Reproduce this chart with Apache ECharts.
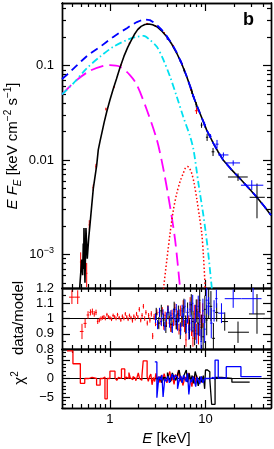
<!DOCTYPE html>
<html><head><meta charset="utf-8">
<script src="https://cdn.jsdelivr.net/npm/echarts@6/dist/echarts.min.js"></script>
<style>html,body{margin:0;padding:0;background:#fff}#c{width:274px;height:449px}</style>
</head><body><div id="c"></div>
<script>
// ---------- axis ranges and tick values ----------
const xRange = [0.315, 48.5];
const fluxRange = [4.4e-4, 0.46];
const ratioRange = [0.8, 1.2];
const chiRange = [-8, 8];
const xMajorTicks = [1, 10];
const xMinorTicks = [0.4,0.5,0.6,0.7,0.8,0.9,2,3,4,5,6,7,8,9,20,30,40];
const xTickLabels = [1, 10];
const fluxMajorTicks = [0.001, 0.01, 0.1];
const fluxMinorTicks = [5e-4,6e-4,7e-4,8e-4,9e-4,0.002,0.003,0.004,0.005,0.006,0.007,0.008,0.009,0.02,0.03,0.04,0.05,0.06,0.07,0.08,0.09,0.2,0.3,0.4];
const fluxTickLabels = [0.001, 0.01, 0.1];
const ratioMajorTicks = [0.8, 0.9, 1.0, 1.1, 1.2];
const ratioMinorTicks = [0.85, 0.95, 1.05, 1.15];
const ratioTickLabels = [0.8, 0.9, 1.0, 1.1, 1.2];
const chiMajorTicks = [-5, 0, 5];
const chiMinorTicks = [-8,-7,-6,-4,-3,-2,-1,1,2,3,4,6,7,8];
const chiTickLabels = [-5, 0, 5];
const ratioUnity = 1;
const chiZero = 0;

// ---------- model curves [E keV, E F_E] ----------
const totalModel = [[0.47,3.0e-4],[0.506,8.8e-4],[0.518,6.0e-4],[0.526,1.3e-3],[0.531,7.0e-4],[0.535,1.9e-3],[0.548,5.0e-4],[0.561,1.9e-3],[0.579,9.0e-4],[0.600,1.5e-3],[0.618,2.05e-3],[0.645,3.3e-3],[0.670,5.0e-3],[0.700,6.8e-3],[0.726,8.7e-3],[0.755,0.0128],[0.790,0.0160],[0.82,0.0190],[0.87,0.0250],[0.93,0.0330],[1.00,0.0431],[1.08,0.056],[1.17,0.072],[1.27,0.094],[1.40,0.125],[1.53,0.155],[1.65,0.180],[1.80,0.213],[1.95,0.240],[2.12,0.260],[2.32,0.272],[2.55,0.276],[2.80,0.270],[3.10,0.258],[3.45,0.235],[3.94,0.202],[4.45,0.168],[5.01,0.135],[5.65,0.104],[6.37,0.0761],[7.0,0.058],[7.49,0.0467],[8.1,0.038],[8.77,0.0311],[9.5,0.0255],[10.3,0.0207],[11.2,0.0175],[12.1,0.0150],[13.5,0.0123],[15.3,0.0100],[18.5,0.0080],[22.8,0.0064],[28.0,0.0051],[34.1,0.00408],[41.0,0.00325],[48.5,0.0026]];
const unabsorbedModel = [[0.315,0.0720],[0.36,0.081],[0.431,0.0964],[0.50,0.111],[0.589,0.129],[0.68,0.143],[0.786,0.157],[0.92,0.178],[1.075,0.200],[1.27,0.224],[1.505,0.249],[1.70,0.270],[1.915,0.289],[2.10,0.300],[2.32,0.307],[2.62,0.303],[2.85,0.288],[3.10,0.268],[3.50,0.238],[3.94,0.205],[4.45,0.170],[5.01,0.137],[5.65,0.105],[6.37,0.0765],[7.0,0.058],[7.49,0.0467],[8.1,0.038],[8.77,0.0311],[9.5,0.0255],[10.3,0.0207],[11.2,0.0175],[12.1,0.0150],[13.5,0.0123],[15.3,0.0100],[18.5,0.0080],[22.8,0.0064],[28.0,0.0051],[34.1,0.00408],[41.0,0.00325],[48.5,0.0026]];
const comptonModel = [[0.315,0.0495],[0.414,0.0648],[0.571,0.0934],[0.786,0.124],[1.083,0.158],[1.494,0.186],[1.915,0.202],[2.265,0.206],[2.60,0.188],[3.10,0.158],[3.64,0.114],[4.26,0.0761],[5.01,0.0467],[5.85,0.0287],[6.92,0.0176],[7.50,0.0128],[8.44,0.00563],[9.55,0.00251],[10.58,0.00113],[11.65,0.00044],[12.2,0.0003]];
const diskModel = [[0.315,0.0495],[0.449,0.0702],[0.618,0.0881],[0.851,0.0995],[1.0,0.101],[1.272,0.0971],[1.618,0.0793],[1.915,0.0622],[2.436,0.0338],[3.10,0.0163],[3.64,0.00784],[4.26,0.00320],[4.81,0.00142],[5.42,0.00044],[5.6,0.0003]];
const lineModel = [[3.5,0.0003],[3.64,0.00044],[4.26,0.00167],[4.6,0.0029],[5.01,0.00444],[5.45,0.0060],[5.85,0.0072],[6.15,0.0082],[6.48,0.00852],[6.8,0.0082],[7.18,0.0072],[7.6,0.0057],[8.14,0.00377],[8.6,0.0026],[9.14,0.00167],[9.5,0.0010],[9.93,0.00044],[10.1,0.0003]];

// ---------- spectra [E, Elo, Ehi, F, Flo, Fhi] ----------
const redSpec = [[0.494,0.485,0.503,8.3e-4,6.0e-4,1.05e-3],[0.571,0.561,0.581,6.3e-4,4.5e-4,8.1e-4],[0.608,0.598,0.618,2.05e-3,1.8e-3,2.3e-3],[0.669,0.658,0.680,5.1e-3,4.7e-3,5.5e-3],[0.714,0.702,0.726,8.6e-3,8.1e-3,9.1e-3],[0.908,0.893,0.923,0.0346,0.0334,0.0358],[1.10,1.08,1.12,0.059,0.0575,0.0605],[1.30,1.28,1.32,0.101,0.099,0.103],[1.60,1.57,1.63,0.172,0.169,0.175],[2.00,1.96,2.04,0.247,0.243,0.251],[2.45,2.40,2.50,0.279,0.275,0.283],[3.00,2.94,3.06,0.262,0.257,0.267],[3.70,3.63,3.77,0.222,0.217,0.227],[4.60,4.51,4.69,0.161,0.156,0.166],[5.70,5.59,5.81,0.103,0.099,0.107],[7.00,6.86,7.14,0.057,0.054,0.060],[8.05,7.75,8.35,0.0332,0.0307,0.0357]];
const blackSpec = [[6.0,5.9,6.1,0.089,0.085,0.093],[7.2,7.05,7.35,0.053,0.050,0.056],[8.0,7.85,8.15,0.0385,0.036,0.041],[9.1,8.9,9.3,0.0234,0.0219,0.0249],[10.4,10.1,10.7,0.0174,0.0159,0.0189],[12.0,11.6,12.4,0.0122,0.0110,0.0134],[21.9,17.2,27.7,0.0066,0.0060,0.0072],[34.6,29.0,41.8,0.00402,0.00241,0.00562]];
const blueSpec = [[4.0,3.9,4.1,0.192,0.187,0.197],[5.5,5.35,5.65,0.111,0.107,0.115],[7.5,7.3,7.7,0.047,0.045,0.049],[9.8,9.5,10.1,0.0235,0.022,0.025],[11.3,11.0,11.6,0.0178,0.0168,0.0188],[13.2,12.7,13.7,0.0147,0.0133,0.0163],[15.4,13.6,17.4,0.0113,0.0106,0.0120],[19.5,16.0,23.0,0.0093,0.0087,0.0099],[30.5,23.5,40.3,0.0054,0.0048,0.0061]];

// ---------- data/model ratios [E, ratio, err] ----------
const redRatio = [[0.40,1.14,0.045],[0.46,1.14,0.045],[0.51,0.915,0.05],[0.55,0.968,0.03],[0.59,1.023,0.025],[0.625,1.04,0.02],[0.655,1.045,0.02],[0.685,1.03,0.018],[0.715,1.04,0.018],[0.745,0.98,0.016],[0.775,0.99,0.015],[0.805,1.0,0.014],[0.835,1.005,0.013],[0.865,1.01,0.013],[0.895,1.0,0.012],[0.93,1.025,0.012],[0.965,1.01,0.012],[1.00,1.005,0.012],[1.04,0.995,0.012],[1.08,1.02,0.012],[1.12,1.01,0.012],[1.16,1.0,0.012],[1.20,1.025,0.012],[1.25,1.005,0.012],[1.30,0.99,0.012],[1.35,1.015,0.012],[1.40,1.0,0.012],[1.45,1.03,0.012],[1.50,1.01,0.012],[1.55,0.995,0.012],[1.60,1.02,0.012],[1.66,1.005,0.012],[1.72,0.985,0.012],[1.78,1.015,0.012],[1.84,1.0,0.013],[1.90,1.03,0.013],[1.96,1.01,0.013],[2.03,1.06,0.015],[2.10,0.99,0.015],[2.17,1.02,0.015],[2.24,1.08,0.015],[2.31,1.0,0.015],[2.38,1.04,0.015],[2.46,0.97,0.016],[2.54,1.02,0.016],[2.62,0.99,0.017],[2.71,1.03,0.018],[2.80,0.885,0.02],[2.90,1.01,0.02],[3.00,0.97,0.02],[3.10,1.04,0.02],[3.20,0.96,0.022],[3.31,1.03,0.022],[3.42,0.98,0.022],[3.54,1.05,0.024],[3.66,0.95,0.024],[3.78,1.02,0.025],[3.91,0.97,0.025],[4.04,1.06,0.026],[4.18,0.99,0.027],[4.32,0.94,0.028],[4.47,1.03,0.028],[4.62,0.98,0.03],[4.78,1.07,0.03],[4.94,0.96,0.032],[5.11,1.02,0.033],[5.28,0.93,0.035],[5.46,1.05,0.035],[5.65,0.98,0.037],[5.84,1.08,0.04],[6.04,0.95,0.04],[6.25,0.86,0.045],[6.46,1.01,0.045],[6.68,0.97,0.05],[6.91,1.09,0.05],[7.14,0.94,0.055],[7.39,0.87,0.055],[7.64,1.03,0.06],[7.90,0.92,0.06],[8.17,1.06,0.065],[8.45,0.90,0.07],[8.74,1.04,0.07],[9.04,0.95,0.075],[9.35,1.02,0.08]];
const blueRatio = [[3.0,1.0,0.03],[3.15,0.96,0.03],[3.3,1.04,0.03],[3.45,0.98,0.03],[3.6,1.03,0.03],[3.75,0.95,0.03],[3.9,1.01,0.03],[4.05,1.05,0.03],[4.2,0.97,0.03],[4.35,1.02,0.035],[4.5,0.94,0.035],[4.65,1.03,0.035],[4.8,0.99,0.035],[4.95,1.06,0.035],[5.1,0.96,0.04],[5.3,1.02,0.04],[5.5,0.93,0.04],[5.7,1.05,0.04],[5.9,0.99,0.045],[6.1,1.08,0.045],[6.3,0.95,0.045],[6.5,1.02,0.05],[6.7,0.91,0.05],[6.9,1.06,0.05],[7.1,0.97,0.055],[7.35,1.10,0.055],[7.6,0.94,0.06],[7.85,1.03,0.06],[8.1,0.90,0.065],[8.4,1.08,0.07],[8.7,0.96,0.075],[9.0,0.85,0.08],[9.4,1.05,0.08],[9.8,0.93,0.09],[10.3,1.12,0.09],[10.8,1.08,0.06],[11.5,0.97,0.1],[12.3,1.05,0.07],[13.0,1.13,0.06]];
const blackRatio = [[3.05,1.03,0.04],[3.25,0.97,0.04],[3.45,1.05,0.04],[3.65,0.99,0.04],[3.85,0.95,0.045],[4.05,1.04,0.045],[4.25,1.0,0.045],[4.45,0.96,0.05],[4.7,1.06,0.05],[4.95,0.98,0.05],[5.2,1.03,0.055],[5.45,0.92,0.055],[5.7,1.01,0.06],[5.95,1.07,0.06],[6.2,0.96,0.06],[6.5,1.04,0.065],[6.8,0.93,0.065],[7.1,1.09,0.07],[7.4,0.98,0.07],[7.7,0.90,0.075],[8.0,1.05,0.075],[8.35,0.97,0.08],[8.7,1.12,0.08],[9.05,0.94,0.085],[9.45,0.88,0.09],[9.85,1.06,0.09],[10.3,0.99,0.1],[10.8,1.10,0.1],[11.4,1.08,0.1],[12.1,0.87,0.1],[13.1,1.04,0.06]];
// wide bins [E, Elo, Ehi, ratio, err]
const blueRatioWide = [[14.7,13.6,15.9,1.035,0.065],[19.5,15.9,23.8,1.13,0.06],[31.5,23.8,38.6,1.13,0.1]];
const blackRatioWide = [[15.9,14.6,17.2,0.98,0.06],[21.9,17.2,28.5,0.91,0.07],[34.6,28.5,41.8,1.03,0.13]];

// ---------- residuals chi, [bin start E, chi] (last row = end of last bin) ----------
const redChi = [[0.355,7.5],[0.41,4.0],[0.49,-1.3],[0.545,0.0],[0.60,0.3],[0.65,0.0],[0.725,-1.8],[0.79,0.0],[0.84,0.4],[0.887,-5.5],[0.937,0.0],[1.0,2.0],[1.13,0.2],[1.18,-0.5],[1.23,0.3],[1.28,0.0],[1.32,2.6],[1.43,-0.4],[1.48,0.4],[1.53,0.0],[1.58,1.6],[1.63,0.2],[1.68,-0.3],[1.74,0.5],[1.8,0.0],[1.86,-0.6],[1.92,0.3],[1.98,1.5],[2.04,0.0],[2.1,-0.5],[2.16,0.6],[2.23,4.8],[2.45,0.5],[2.52,-0.8],[2.6,0.6],[2.68,1.2],[2.76,-1.7],[2.85,0.3],[2.94,-0.8],[3.03,1.4],[3.13,-0.3],[3.23,0.5],[3.34,-1.1],[3.45,0.9],[3.57,-0.5],[3.69,1.3],[3.82,0.0],[3.95,-1.2],[4.09,0.7],[4.23,1.9],[4.38,-0.6],[4.53,0.4],[4.69,-1.6],[4.86,1.1],[5.03,0.0],[5.21,2.3],[5.4,-0.8],[5.6,0.5],[5.8,-1.9],[6.01,-0.3],[6.23,0.4],[6.46,-1.0],[6.7,1.5],[6.95,-0.5],[7.21,-2.2],[7.48,0.6],[7.76,-1.4],[8.05,0.9],[8.35,-0.6],[8.66,-1.0],[9.0,0.3],[9.35,0.3]];
const blueChi = [[2.95,4.5],[3.1,-5.2],[3.25,0.5],[3.4,-0.3],[3.5,1.0],[3.6,-5.0],[3.75,0.0],[3.9,-0.8],[4.05,0.6],[4.2,-1.2],[4.35,0.2],[4.5,1.2],[4.65,-0.4],[4.8,0.9],[4.95,0.4],[5.1,-2.8],[5.3,-0.6],[5.5,0.7],[5.7,-1.2],[5.9,0.9],[6.1,0.0],[6.3,-0.9],[6.5,1.4],[6.7,-4.3],[6.95,-0.3],[7.15,-1.0],[7.4,0.5],[7.65,-0.5],[7.9,-2.2],[8.15,0.3],[8.4,-0.4],[8.7,-1.5],[9.0,0.6],[9.4,-1.2],[9.8,0.0],[10.3,0.4],[10.8,0.0],[11.4,0.3],[12.0,-0.2],[12.6,5.0],[13.6,0.1],[16.5,3.2],[23.5,0.5],[38.6,0.5]];
const blackChi = [[3.0,0.0],[3.2,-0.9],[3.35,0.5],[3.5,-1.2],[3.65,0.3],[3.8,0.0],[4.0,1.6],[4.15,0.0],[4.3,-0.9],[4.5,1.5],[4.7,0.2],[4.9,-0.5],[5.1,1.1],[5.3,2.3],[5.5,0.0],[5.7,-1.0],[5.9,0.6],[6.1,1.5],[6.3,2.3],[6.5,-1.0],[6.75,1.4],[7.0,-0.6],[7.25,0.8],[7.5,-1.3],[7.8,1.9],[8.1,0.3],[8.4,-2.0],[8.7,0.5],[9.1,-1.0],[9.5,0.8],[9.8,-2.8],[10.0,2.3],[10.5,1.8],[11.1,-0.3],[11.6,-7.0],[12.6,0.3],[14.8,0.0],[18.9,-1.0],[29.0,-1.0]];

// ---------- chart construction ----------
const FONT = '"Liberation Sans", Arial, sans-serif';
const COL = {red:'#ff0000', blue:'#0000ff', black:'#000000', cyan:'#00e0f0', magenta:'#ff00ff'};
const RICH = {
  i:{fontStyle:'italic', fontSize:15, fontFamily:FONT, fill:'#000', color:'#000', lineHeight:20},
  n:{fontSize:15, fontFamily:FONT, fill:'#000', color:'#000', lineHeight:20},
  s:{fontStyle:'italic', fontSize:10, fontFamily:FONT, fill:'#000', color:'#000', lineHeight:11, verticalAlign:'bottom'},
  p:{fontSize:10, fontFamily:FONT, fill:'#000', color:'#000', lineHeight:11, verticalAlign:'top'},
  a:{fontSize:13, fontFamily:FONT, fill:'#000', color:'#000', lineHeight:16},
  b:{fontSize:9, fontFamily:FONT, fill:'#000', color:'#000', lineHeight:9, verticalAlign:'top'}
};
const grids = [
  {left:62, right:3, top:3, height:285},
  {left:62, right:3, top:288, height:61},
  {left:62, right:3, top:349, height:59}
];
grids.forEach(g => { g.containLabel = false; g.outerBoundsMode = 'none'; });
const xAxes = [], yAxes = [];
function mkAxis(list, g, pos, type, range, ticks, len, extra) {
  const a = {
    type: type, gridIndex: g, position: pos, min: range[0], max: range[1],
    axisLine: {show:true, onZero:false, lineStyle:{color:'#000', width:1.4}},
    axisTick: {show:true, inside:true, length:len, customValues:ticks, lineStyle:{color:'#000', width:1.2}},
    axisLabel: {show:false},
    splitLine: {show:false}, minorTick:{show:false}, minorSplitLine:{show:false},
    axisPointer: {show:false}, silent:true
  };
  if (type === 'log') a.logBase = 10;
  Object.assign(a, extra || {});
  list.push(a);
}
const lbl = (vals, fmt) => ({show:true, customValues:vals, formatter:fmt, color:'#000', fontSize:13, fontFamily:FONT, margin:8, rich:RICH});
const yCfg = [
  {type:'log', range:fluxRange, maj:fluxMajorTicks, min:fluxMinorTicks,
   label: lbl(fluxTickLabels, v => { const p = Math.round(Math.log10(v)); return p === -1 ? '0.1' : p === -2 ? '0.01' : '{a|10}{b|−' + (-p) + '}'; })},
  {type:'value', range:ratioRange, maj:ratioMajorTicks, min:ratioMinorTicks,
   label: lbl(ratioTickLabels, v => String(+(+v).toFixed(2)))},
  {type:'value', range:chiRange, maj:chiMajorTicks, min:chiMinorTicks,
   label: lbl(chiTickLabels, v => String(v).replace('-', '−'))}
];
for (let g = 0; g < 3; g++) {
  const xExtra = g === 2 ? {
    axisLabel: Object.assign(lbl(xTickLabels, v => String(v)), {margin:5}),
    name:'{i|E}{n| [keV]}', nameLocation:'middle', nameGap:21,
    nameTextStyle:{fontFamily:FONT, fontSize:15, color:'#000', rich:RICH}
  } : {};
  mkAxis(xAxes, g, 'bottom', 'log', xRange, xMinorTicks, 4, xExtra);
  mkAxis(xAxes, g, 'bottom', 'log', xRange, xMajorTicks, 8);
  mkAxis(xAxes, g, 'top', 'log', xRange, xMinorTicks, 4);
  mkAxis(xAxes, g, 'top', 'log', xRange, xMajorTicks, 8);
  const c = yCfg[g];
  mkAxis(yAxes, g, 'left', c.type, c.range, c.min, 4, {axisLabel: c.label});
  mkAxis(yAxes, g, 'left', c.type, c.range, c.maj, 8);
  mkAxis(yAxes, g, 'right', c.type, c.range, c.min, 4);
  mkAxis(yAxes, g, 'right', c.type, c.range, c.maj, 8);
}

function errRender(params, api) {
  const x = api.value(0), xl = api.value(1), xh = api.value(2);
  const y = api.value(3), yl = api.value(4), yh = api.value(5);
  const a = api.coord([xl, y]), b = api.coord([xh, y]);
  const c = api.coord([x, yl]), d = api.coord([x, yh]);
  const style = {stroke: api.visual('color'), lineWidth: 1};
  return {type:'group', children:[
    {type:'line', shape:{x1:a[0], y1:a[1], x2:b[0], y2:b[1]}, style:style},
    {type:'line', shape:{x1:c[0], y1:c[1], x2:d[0], y2:d[1]}, style:style}
  ]};
}
function denseBars(rows) {
  return rows.map((r, i) => {
    const prev = i > 0 ? rows[i-1][0] : null;
    const next = i < rows.length - 1 ? rows[i+1][0] : null;
    const lo = prev ? Math.sqrt(prev * r[0]) : r[0] * r[0] / Math.sqrt(r[0] * next);
    const hi = next ? Math.sqrt(next * r[0]) : r[0] * r[0] / Math.sqrt(r[0] * prev);
    return [r[0], lo, hi, r[1], r[1] - r[2], r[1] + r[2]];
  });
}
const wideBars = rows => rows.map(r => [r[0], r[1], r[2], r[3], r[3] - r[4], r[3] + r[4]]);
function errSeries(data, color, g, z) {
  return {type:'custom', renderItem:errRender, data:data, xAxisIndex:g*4, yAxisIndex:g*4,
    itemStyle:{color:color}, encode:{x:0, y:3}, clip:true, silent:true, z:z || 3};
}
function lineSeries(data, color, width, dash, g, smooth, z, step) {
  return {type:'line', data:data, xAxisIndex:g*4, yAxisIndex:g*4, showSymbol:false, symbol:'none',
    smooth: smooth || false, step: step || false, clip:true, silent:true, z: z || 3,
    lineStyle:{color:color, width:width, type: dash || 'solid'}};
}

const series = [
  lineSeries(diskModel, COL.magenta, 1.8, [13, 6], 0, 0.3, 2),
  lineSeries(comptonModel, COL.cyan, 1.8, [7, 3, 1.5, 3], 0, 0.3, 2),
  lineSeries(lineModel, COL.red, 1.5, [1.5, 2.2], 0, 0.3, 2),
  errSeries(redSpec, COL.red, 0, 3),
  lineSeries(totalModel, COL.black, 1.6, 'solid', 0, false, 4),
  lineSeries(unabsorbedModel, COL.blue, 1.8, [8, 5], 0, false, 5),
  errSeries(blackSpec, COL.black, 0, 6),
  errSeries(blueSpec, COL.blue, 0, 6),
  lineSeries([[xRange[0], ratioUnity], [xRange[1], ratioUnity]], COL.black, 1, 'solid', 1, false, 2),
  errSeries(denseBars(redRatio), COL.red, 1, 3),
  errSeries(denseBars(blackRatio), COL.black, 1, 4),
  errSeries(wideBars(blackRatioWide), COL.black, 1, 4),
  errSeries(denseBars(blueRatio), COL.blue, 1, 5),
  errSeries(wideBars(blueRatioWide), COL.blue, 1, 5),
  lineSeries([[xRange[0], chiZero], [xRange[1], chiZero]], COL.black, 1, 'solid', 2, false, 2),
  lineSeries(redChi, COL.red, 1.3, 'solid', 2, false, 3, 'end'),
  lineSeries(blackChi, COL.black, 1.3, 'solid', 2, false, 4, 'end'),
  lineSeries(blueChi, COL.blue, 1.3, 'solid', 2, false, 5, 'end')
];

function vText(txt, x, y) {
  return {type:'text', x:x, y:y, rotation:Math.PI / 2, z:100, silent:true,
    style:{text:txt, rich:RICH, fill:'#000', font:'15px ' + FONT, align:'center', verticalAlign:'middle'}};
}

const chart = echarts.init(document.getElementById('c'), null, {renderer:'canvas'});
chart.setOption({
  animation:false,
  backgroundColor:'#ffffff',
  grid: grids,
  xAxis: xAxes,
  yAxis: yAxes,
  series: series,
  graphic: [
    {type:'text', left:243, top:11, z:100, silent:true,
      style:{text:'b', fill:'#000', font:'bold 18px "Liberation Sans", Arial, sans-serif'}},
    vText('{i|E F}{s|E}{n| [keV cm}{p|−2}{n| s}{p|−1}{n|]}', 13, 146),
    vText('{n|data/model}', 19, 318),
    vText('{n|χ}{p|2}', 20, 378)
  ]
});
</script>
</body></html>
